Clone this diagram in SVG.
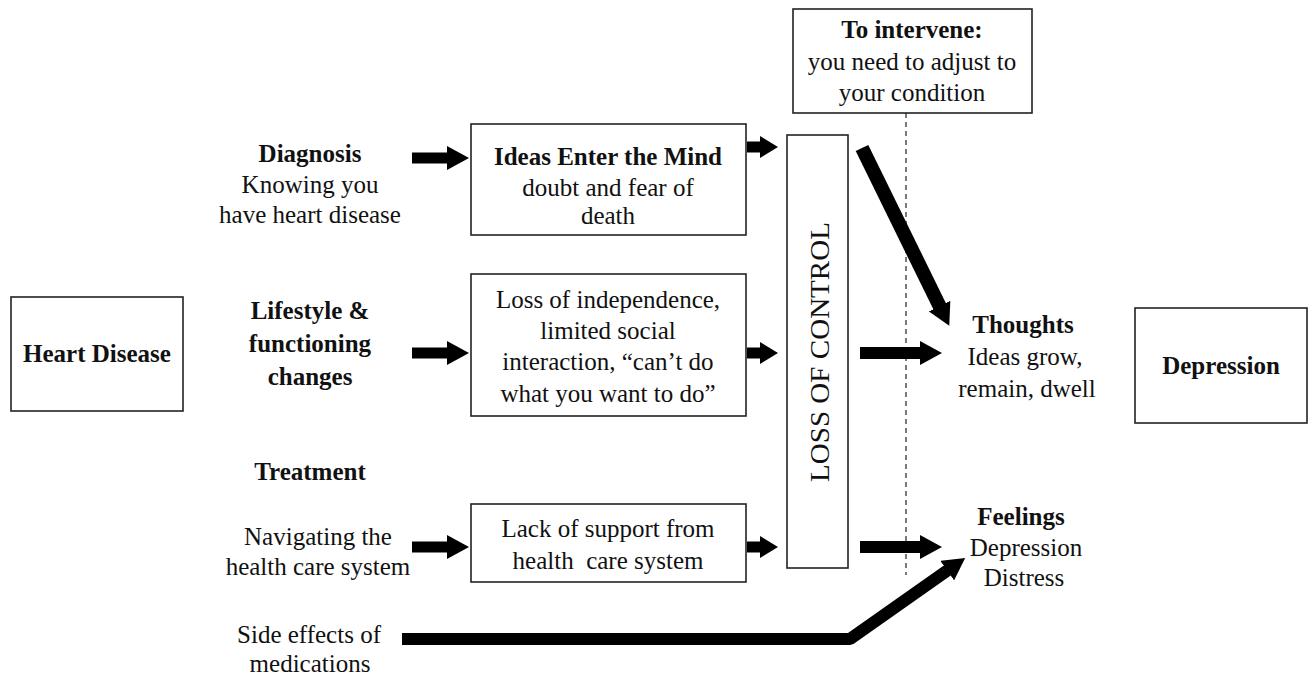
<svg xmlns="http://www.w3.org/2000/svg" width="1315" height="679" viewBox="0 0 1315 679">
<style>
text{font-family:"Liberation Serif","Times New Roman",serif;font-size:25px;fill:#111;text-anchor:middle}
.b{font-weight:bold}
.box{fill:#fff;stroke:#222;stroke-width:1.6}
.sh{stroke:#000;fill:none}
</style>
<defs>
<marker id="ah" markerUnits="userSpaceOnUse" markerWidth="22" markerHeight="24" viewBox="0 0 22 24" refX="1" refY="12" orient="auto"><path d="M0,0 L22,12 L0,24 z" fill="#000"/></marker>
<marker id="as" markerUnits="userSpaceOnUse" markerWidth="18" markerHeight="22" viewBox="0 0 18 22" refX="1" refY="11" orient="auto"><path d="M0,0 L18,11 L0,22 z" fill="#000"/></marker>
</defs>
<rect width="1315" height="679" fill="#fff"/>

<g id="heart-disease"><rect class="box" x="11" y="297" width="172" height="114"/><text class="b" x="97" y="362">Heart Disease</text></g>
<g id="depression"><rect class="box" x="1135" y="308" width="172" height="115"/><text class="b" x="1221" y="374">Depression</text></g>

<g id="diagnosis"><text class="b" x="310" y="162">Diagnosis</text><text x="310" y="193">Knowing you</text><text x="310" y="223">have heart disease</text></g>
<g id="lifestyle"><text class="b" x="310" y="319">Lifestyle &amp;</text><text class="b" x="310" y="352">functioning</text><text class="b" x="310" y="385">changes</text></g>
<g id="treatment"><text class="b" x="310" y="480">Treatment</text></g>
<g id="navigating"><text x="318" y="545">Navigating the</text><text x="318" y="575">health care system</text></g>
<g id="side-effects"><text x="309" y="643">Side effects of</text><text x="310" y="672">medications</text></g>

<g id="ideas"><rect class="box" x="471" y="124" width="275" height="111"/><text class="b" x="608" y="165">Ideas Enter the Mind</text><text x="608" y="196">doubt and fear of</text><text x="608" y="224">death</text></g>
<g id="independence"><rect class="box" x="471" y="274" width="275" height="142"/><text x="608" y="308">Loss of independence,</text><text x="608" y="339">limited social</text><text x="608" y="370">interaction, “can’t do</text><text x="608" y="402">what you want to do”</text></g>
<g id="lack-support"><rect class="box" x="471" y="504" width="275" height="78"/><text x="608" y="537">Lack of support from</text><text x="608" y="569" xml:space="preserve">health  care system</text></g>

<g id="loss-of-control"><rect class="box" x="787" y="135" width="61" height="433"/><text x="0" y="0" transform="translate(829,352) rotate(-90)" style="font-size:28px" textLength="260" lengthAdjust="spacingAndGlyphs">LOSS OF CONTROL</text></g>
<g id="intervene"><rect class="box" x="793" y="9" width="239" height="104"/><text class="b" x="912" y="38">To intervene:</text><text x="912" y="70">you need to adjust to</text><text x="912" y="101">your condition</text></g>

<g id="thoughts"><text class="b" x="1023" y="333">Thoughts</text><text x="1025" y="365">Ideas grow,</text><text x="1027" y="397">remain, dwell</text></g>
<g id="feelings"><text class="b" x="1021" y="525">Feelings</text><text x="1026" y="556">Depression</text><text x="1024" y="586">Distress</text></g>

<g id="connectors">
<line x1="906" y1="113" x2="906" y2="575" stroke="#222" stroke-width="1.2" stroke-dasharray="5,4"/>
<line class="sh" x1="412" y1="158" x2="448" y2="158" stroke-width="11" marker-end="url(#ah)"/>
<line class="sh" x1="412" y1="353" x2="448" y2="353" stroke-width="11" marker-end="url(#ah)"/>
<line class="sh" x1="412" y1="547" x2="448" y2="547" stroke-width="11" marker-end="url(#ah)"/>
<line class="sh" x1="747" y1="147" x2="761" y2="147" stroke-width="11" marker-end="url(#as)"/>
<line class="sh" x1="747" y1="353" x2="761" y2="353" stroke-width="11" marker-end="url(#as)"/>
<line class="sh" x1="747" y1="547" x2="761" y2="547" stroke-width="11" marker-end="url(#as)"/>
<line class="sh" x1="860" y1="353" x2="921" y2="353" stroke-width="12" marker-end="url(#ah)"/>
<line class="sh" x1="860" y1="547" x2="921" y2="547" stroke-width="12" marker-end="url(#ah)"/>
<line class="sh" x1="862" y1="148" x2="940" y2="307" stroke-width="14" marker-end="url(#ah)"/>
<path class="sh" d="M402,639 L850,639 L948,570" stroke-width="12" stroke-linejoin="bevel" marker-end="url(#ah)"/>
</g>
</svg>
